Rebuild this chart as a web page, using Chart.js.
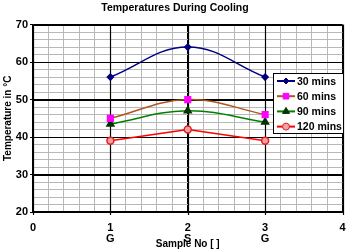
<!DOCTYPE html>
<html>
<head>
<meta charset="utf-8">
<script src="https://cdn.jsdelivr.net/npm/chart.js@4/dist/chart.umd.min.js"></script>
<style>
  html, body { margin: 0; padding: 0; background: #fff; }
  #wrap { width: 348px; height: 250px; }
</style>
</head>
<body>
<div id="wrap"><canvas id="chartCooling" width="348" height="250"></canvas></div>
<script>
// Datos
const muestras = [1, 2, 3];
const tipoMuestra = ['G', 'S', 'G'];
const serieNombres = ['30 mins', '60 mins', '90 mins', '120 mins'];
const t30 = [56, 64, 56];
const t60 = [45, 50, 46];
const t90 = [43.5, 47, 44];
const t120 = [39, 42, 39];

const fuente = { family: 'Arial, "Liberation Sans", sans-serif', weight: 'bold', size: 11 };

function puntos(vals) {
    return muestras.map((x, i) => ({ x: x, y: vals[i] }));
}

function esEntero(v) {
    return Math.abs(v - Math.round(v)) < 1e-6;
}

// Redibuja las líneas principales de la cuadrícula encima de las secundarias
const cuadriculaMayor = {
    id: 'cuadriculaMayor',
    beforeDatasetsDraw(chart) {
        const c = chart.ctx;
        const a = chart.chartArea;
        const sx = chart.scales.x, sy = chart.scales.y;
        c.save();
        c.strokeStyle = '#000';
        c.lineWidth = 1.2;
        sx.ticks.forEach(t => {
            if (!esEntero(t.value)) return;
            const px = Math.round(sx.getPixelForValue(t.value)) + 0.5;
            c.beginPath(); c.moveTo(px, a.top); c.lineTo(px, a.bottom + 3); c.stroke();
        });
        sy.ticks.forEach(t => {
            if (t.value % 10 !== 0) return;
            const py = Math.round(sy.getPixelForValue(t.value)) + 0.5;
            c.beginPath(); c.moveTo(a.left, py); c.lineTo(a.right, py); c.stroke();
        });
        c.restore();
    }
};

// Leyenda dentro del área del gráfico, con línea + marcador
const leyendaInterna = {
    id: 'leyendaInterna',
    afterDraw(chart) {
        const c = chart.ctx;
        const x0 = 273, y0 = 73, w = 70, h = 60;
        c.save();
        c.fillStyle = '#fff';
        c.fillRect(x0, y0, w, h);
        c.strokeStyle = '#000';
        c.lineWidth = 1;
        c.strokeRect(x0 + 0.5, y0 + 0.5, w, h);
        chart.data.datasets.forEach((ds, i) => {
            const y = y0 + 8 + i * 15.2;
            c.strokeStyle = ds.borderColor;
            c.lineWidth = 2;
            c.beginPath();
            c.moveTo(x0 + 4, y);
            c.lineTo(x0 + 22, y);
            c.stroke();
            c.fillStyle = ds.pointBackgroundColor;
            c.strokeStyle = ds.pointBorderColor;
            c.lineWidth = 1;
            Chart.helpers.drawPoint(c, {
                pointStyle: ds.pointStyle,
                radius: ds.pointRadius,
                rotation: 0,
                borderWidth: 1
            }, x0 + 13, y);
            c.fillStyle = '#000';
            c.font = 'bold 10.5px Arial, "Liberation Sans", sans-serif';
            c.textBaseline = 'middle';
            c.fillText(ds.label, x0 + 24, y + 1);
        });
        c.restore();
    }
};

new Chart(document.getElementById('chartCooling'), {
    type: 'line',
    data: {
        datasets: [{
            label: serieNombres[0],
            data: puntos(t30),
            borderColor: '#000080',
            borderWidth: 1.5,
            pointStyle: 'rectRot',
            pointRadius: 3,
            pointBackgroundColor: '#000080',
            pointBorderColor: '#000080',
            tension: 0.4
        }, {
            label: serieNombres[1],
            data: puntos(t60),
            borderColor: '#b0561c',
            borderWidth: 1.5,
            pointStyle: 'rect',
            pointRadius: 4,
            pointBackgroundColor: '#ff00ff',
            pointBorderColor: '#ff00ff',
            tension: 0.4
        }, {
            label: serieNombres[2],
            data: puntos(t90),
            borderColor: '#008000',
            borderWidth: 1.5,
            pointStyle: 'triangle',
            pointRadius: 4,
            pointBackgroundColor: '#003300',
            pointBorderColor: '#003300',
            tension: 0.4
        }, {
            label: serieNombres[3],
            data: puntos(t120),
            borderColor: '#ff0000',
            borderWidth: 1.5,
            pointStyle: 'circle',
            pointRadius: 3.5,
            pointBackgroundColor: '#f4a0a0',
            pointBorderColor: '#e02020',
            tension: 0
        }]
    },
    options: {
        responsive: false,
        animation: false,
        layout: { padding: { left: 2, right: 0, top: 0, bottom: 0 } },
        scales: {
            x: {
                type: 'linear',
                min: 0,
                max: 4,
                afterFit: s => { s.height = 38; s.paddingRight = 4; s.paddingLeft = 0; },
                border: { color: '#000', width: 1.5 },
                grid: {
                    color: ctx => (esEntero(ctx.tick.value) ? '#000' : '#b8b8b8'),
                    lineWidth: 1,
                    drawTicks: false
                },
                ticks: {
                    stepSize: 0.2,
                    autoSkip: false,
                    maxRotation: 0,
                    padding: 11,
                    color: '#000',
                    font: Object.assign({ lineHeight: 0.95 }, fuente),
                    callback: function (v) {
                        if (!esEntero(v)) return '';
                        const r = Math.round(v);
                        const idx = muestras.indexOf(r);
                        return idx >= 0 ? [String(r), tipoMuestra[idx]] : String(r);
                    }
                },
                title: {
                    display: true,
                    text: 'Sample No [ ]',
                    color: '#000',
                    font: { family: fuente.family, weight: 'bold', size: 10 },
                    padding: { top: 0, bottom: 0 }
                }
            },
            y: {
                min: 20,
                max: 70,
                afterFit: s => { s.width = 31; },
                border: { color: '#000', width: 1.5 },
                grid: {
                    color: ctx => (ctx.tick.value % 10 === 0 ? '#000' : '#b8b8b8'),
                    tickColor: ctx => (ctx.tick.value % 10 === 0 ? '#000' : 'rgba(0,0,0,0)'),
                    lineWidth: 1,
                    drawTicks: true,
                    tickLength: 3
                },
                ticks: {
                    stepSize: 2,
                    autoSkip: false,
                    padding: 2,
                    color: '#000',
                    font: fuente,
                    callback: v => (v % 10 === 0 ? String(v) : '')
                },
                title: {
                    display: true,
                    text: 'Temperature in °C',
                    color: '#000',
                    font: { family: fuente.family, weight: 'bold', size: 10 },
                    padding: { top: 0, bottom: 2 }
                }
            }
        },
        plugins: {
            legend: { display: false },
            tooltip: { enabled: false },
            title: {
                display: true,
                text: 'Temperatures During Cooling',
                color: '#000',
                font: { family: fuente.family, weight: 'bold', size: 10.5 },
                padding: { top: 2, bottom: 10 }
            }
        }
    },
    plugins: [cuadriculaMayor, leyendaInterna]
});
</script>
</body>
</html>
